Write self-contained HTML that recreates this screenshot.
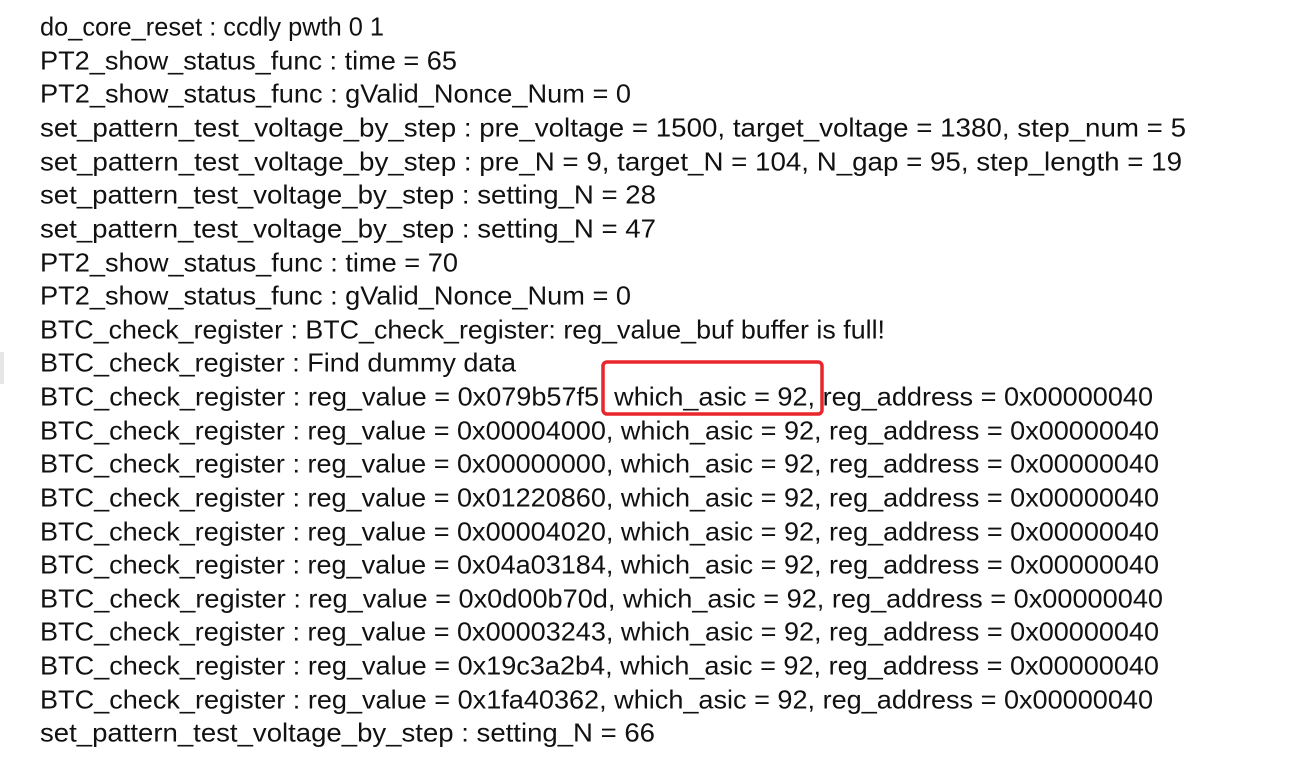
<!DOCTYPE html>
<html><head><meta charset="utf-8"><style>html,body{margin:0;padding:0;background:#fff;width:1304px;height:759px;overflow:hidden}</style></head>
<body>
<svg width="1304" height="759" xmlns="http://www.w3.org/2000/svg" font-family="Liberation Sans, sans-serif" font-size="26" fill="#111">
<g dominant-baseline="central" transform="translate(0,1.5)">
<text x="40" y="25" textLength="344" lengthAdjust="spacingAndGlyphs">do_core_reset : ccdly pwth 0 1</text>
<text x="40" y="59" textLength="417" lengthAdjust="spacingAndGlyphs">PT2_show_status_func : time = 65</text>
<text x="40" y="92" textLength="591" lengthAdjust="spacingAndGlyphs">PT2_show_status_func : gValid_Nonce_Num = 0</text>
<text x="40" y="126" textLength="1146" lengthAdjust="spacingAndGlyphs">set_pattern_test_voltage_by_step : pre_voltage = 1500, target_voltage = 1380, step_num = 5</text>
<text x="40" y="160" textLength="1142" lengthAdjust="spacingAndGlyphs">set_pattern_test_voltage_by_step : pre_N = 9, target_N = 104, N_gap = 95, step_length = 19</text>
<text x="40" y="193" textLength="616" lengthAdjust="spacingAndGlyphs">set_pattern_test_voltage_by_step : setting_N = 28</text>
<text x="40" y="227" textLength="616" lengthAdjust="spacingAndGlyphs">set_pattern_test_voltage_by_step : setting_N = 47</text>
<text x="40" y="261" textLength="418" lengthAdjust="spacingAndGlyphs">PT2_show_status_func : time = 70</text>
<text x="40" y="294" textLength="591" lengthAdjust="spacingAndGlyphs">PT2_show_status_func : gValid_Nonce_Num = 0</text>
<text x="40" y="328" textLength="845" lengthAdjust="spacingAndGlyphs">BTC_check_register : BTC_check_register: reg_value_buf buffer is full!</text>
<text x="40" y="361" textLength="476" lengthAdjust="spacingAndGlyphs">BTC_check_register : Find dummy data</text>
<text x="40" y="395" textLength="1113" lengthAdjust="spacingAndGlyphs">BTC_check_register : reg_value = 0x079b57f5, which_asic = 92, reg_address = 0x00000040</text>
<text x="40" y="429" textLength="1119" lengthAdjust="spacingAndGlyphs">BTC_check_register : reg_value = 0x00004000, which_asic = 92, reg_address = 0x00000040</text>
<text x="40" y="462" textLength="1119" lengthAdjust="spacingAndGlyphs">BTC_check_register : reg_value = 0x00000000, which_asic = 92, reg_address = 0x00000040</text>
<text x="40" y="496" textLength="1119" lengthAdjust="spacingAndGlyphs">BTC_check_register : reg_value = 0x01220860, which_asic = 92, reg_address = 0x00000040</text>
<text x="40" y="530" textLength="1119" lengthAdjust="spacingAndGlyphs">BTC_check_register : reg_value = 0x00004020, which_asic = 92, reg_address = 0x00000040</text>
<text x="40" y="563" textLength="1119" lengthAdjust="spacingAndGlyphs">BTC_check_register : reg_value = 0x04a03184, which_asic = 92, reg_address = 0x00000040</text>
<text x="40" y="597" textLength="1123" lengthAdjust="spacingAndGlyphs">BTC_check_register : reg_value = 0x0d00b70d, which_asic = 92, reg_address = 0x00000040</text>
<text x="40" y="630" textLength="1119" lengthAdjust="spacingAndGlyphs">BTC_check_register : reg_value = 0x00003243, which_asic = 92, reg_address = 0x00000040</text>
<text x="40" y="664" textLength="1119" lengthAdjust="spacingAndGlyphs">BTC_check_register : reg_value = 0x19c3a2b4, which_asic = 92, reg_address = 0x00000040</text>
<text x="40" y="698" textLength="1113" lengthAdjust="spacingAndGlyphs">BTC_check_register : reg_value = 0x1fa40362, which_asic = 92, reg_address = 0x00000040</text>
<text x="40" y="731" textLength="615" lengthAdjust="spacingAndGlyphs">set_pattern_test_voltage_by_step : setting_N = 66</text>
</g>
<rect x="603" y="362" width="219" height="52" rx="4" fill="none" stroke="#e8262b" stroke-width="3.5"/>
<rect x="0" y="352" width="4" height="32" fill="#e6e6e6"/>
</svg>
</body></html>
